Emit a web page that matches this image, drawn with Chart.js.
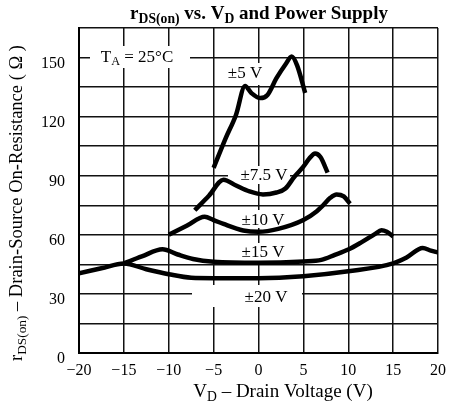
<!DOCTYPE html>
<html>
<head>
<meta charset="utf-8">
<script src="https://cdn.jsdelivr.net/npm/chart.js@4.4.1/dist/chart.umd.min.js"></script>
<style>
  html, body { margin: 0; padding: 0; background: #fff; }
  #wrap { width: 454px; height: 407px; }
</style>
</head>
<body>
<div id="wrap"><canvas id="chart" width="454" height="407"></canvas></div>
<script>
// values (VD in volts, rDS(on) in ohms)
const vd5 = [-5, -3.7, -2.5, -1.5, -0.8, 0.2, 1, 2, 3, 3.7, 4.3, 5.2];
const r5 = [94, 108.6, 121, 135.5, 132, 129.4, 131, 139.5, 146.5, 150.5, 146, 132];

const vd75 = [-7.1, -5.5, -3.9, -2.5, -1, 0.5, 2, 3, 4, 5, 5.7, 6.3, 6.9, 7.7];
const r75 = [72.5, 80, 88, 85, 82, 80.5, 81.5, 83.5, 89.5, 94.6, 99, 101.3, 99.5, 91.6];

const vd10 = [-10, -8, -6, -5, -3.9, -1.7, 0, 2.2, 5, 6.5, 7.2, 8, 8.7, 9.5, 10.2];
const r10 = [60, 64.6, 69.2, 67.5, 65.5, 62.2, 61.5, 63, 67.5, 72, 75, 78.8, 80.5, 79.5, 75.8];

const vd15 = [-15, -13, -10.7, -9, -7.3, -5, 0, 5, 7, 8.5, 10, 11.5, 13, 13.7, 14.3, 15];
const r15 = [45.5, 49, 52.7, 50, 47.7, 46.3, 45.8, 46.5, 47.3, 49.8, 52.5, 56.3, 60.5, 62.3, 61.5, 59.2];

const vd20 = [-20, -17.5, -15, -12.5, -10, -7.5, -5, 0, 5, 10, 15, 16.5, 18.3, 19.2, 20];
const r20 = [40.5, 43, 45.5, 42.5, 40, 38.2, 38, 38, 39, 41.5, 45.5, 48.5, 53.3, 52, 51];

const seriesNames = ["±5 V", "±7.5 V", "±10 V", "±15 V", "±20 V"];
const xTicks = [-20, -15, -10, -5, 0, 5, 10, 15, 20];
const yLabelTicks = [0, 30, 60, 90, 120, 150];

const SERIF = '"Liberation Serif", "Times New Roman", serif';

function pts(xs, ys) {
  return xs.map((x, i) => ({ x: x, y: ys[i] }));
}

// draws text made of normal and subscript pieces, centred on (cx, cy)
function richText(ctx, parts, cx, cy, size, bold, rot) {
  let w = 0;
  parts.forEach(p => {
    ctx.font = (bold ? "bold " : "") + (p.sub ? size * 0.72 : size) + "px " + SERIF;
    p.w = ctx.measureText(p.t).width;
    w += p.w;
  });
  ctx.save();
  ctx.translate(cx, cy);
  ctx.rotate(rot || 0);
  ctx.fillStyle = "#000";
  ctx.textBaseline = "alphabetic";
  ctx.textAlign = "left";
  let x = -w / 2;
  parts.forEach(p => {
    ctx.font = (bold ? "bold " : "") + (p.sub ? size * 0.72 : size) + "px " + SERIF;
    ctx.fillText(p.t, x, size * 0.34 + (p.sub ? size * 0.18 : 0));
    x += p.w;
  });
  ctx.restore();
}

const labelsPlugin = {
  id: "labels",
  beforeDatasetsDraw(chart) {
    let ctx = chart.ctx;
    ctx.save();
    ctx.fillStyle = "#fff";
    ctx.fillRect(90, 46, 100, 22);    // TA box
    ctx.fillRect(227, 63, 34, 22);    // ±5 V
    ctx.fillRect(228, 166, 62, 18);   // ±7.5 V
    ctx.fillRect(238, 210, 50, 18);   // ±10 V
    ctx.fillRect(238, 243, 50, 18);   // ±15 V
    ctx.fillRect(192, 285, 110, 22);  // ±20 V
    ctx.restore();
  },
  afterDraw(chart) {
    let ctx = chart.ctx;
    // title
    richText(ctx, [{ t: "r" }, { t: "DS(on)", sub: true }, { t: " vs. V" }, { t: "D", sub: true },
      { t: " and Power Supply" }], 259, 13, 19, true);
    // axis titles
    richText(ctx, [{ t: "V" }, { t: "D", sub: true }, { t: " – Drain Voltage (V)" }], 283, 391, 19, false);
    richText(ctx, [{ t: "r" }, { t: "DS(on)", sub: true }, { t: " – Drain-Source On-Resistance ( Ω )" }],
      16, 203, 18.5, false, -Math.PI / 2);
    // annotations
    richText(ctx, [{ t: "T" }, { t: "A", sub: true }, { t: " = 25°C" }], 137, 56, 17, false);
    richText(ctx, [{ t: seriesNames[0] }], 245, 72, 17, false);
    richText(ctx, [{ t: seriesNames[1] }], 264, 174, 17, false);
    richText(ctx, [{ t: seriesNames[2] }], 263, 219, 17, false);
    richText(ctx, [{ t: seriesNames[3] }], 263, 251, 17, false);
    richText(ctx, [{ t: seriesNames[4] }], 266, 296, 17, false);
  }
};

const curves = [pts(vd5, r5), pts(vd75, r75), pts(vd10, r10), pts(vd15, r15), pts(vd20, r20)];

let ctx = document.getElementById("chart").getContext("2d");

let chart = new Chart(ctx, {
  type: "line",
  data: {
    datasets: curves.map((d, i) => ({
      label: seriesNames[i],
      data: d,
      borderColor: "#000",
      borderWidth: 4.5,
      pointRadius: 0,
      cubicInterpolationMode: "monotone",
      borderCapStyle: "butt",
      fill: false
    }))
  },
  options: {
    responsive: false,
    animation: false,
    layout: { padding: { top: 28, right: 12, left: 0, bottom: 0 } },
    plugins: {
      legend: { display: false },
      tooltip: { enabled: false },
      title: { display: false }
    },
    scales: {
      x: {
        type: "linear",
        min: -20,
        max: 20,
        afterBuildTicks: s => { s.ticks = xTicks.map(v => ({ value: v })); },
        afterFit: s => { s.height = 54; },
        grid: { color: "#111", lineWidth: 1.5, drawTicks: false },
        border: { color: "#000", width: 2 },
        ticks: {
          color: "#000",
          padding: 8,
          maxRotation: 0,
          font: { family: SERIF, size: 16 },
          callback: v => (v < 0 ? "−" + Math.abs(v) : "" + v)
        }
      },
      y: {
        min: 0,
        max: 165,
        afterFit: s => { s.width = 79; },
        grid: { color: "#111", lineWidth: 1.5, drawTicks: false },
        border: { color: "#000", width: 2 },
        ticks: {
          stepSize: 15,
          color: "#000",
          padding: 14,
          labelOffset: 6,
          font: { family: SERIF, size: 16 },
          callback: v => (yLabelTicks.includes(v) ? "" + v : "")
        }
      }
    }
  },
  plugins: [labelsPlugin]
});
</script>
</body>
</html>
